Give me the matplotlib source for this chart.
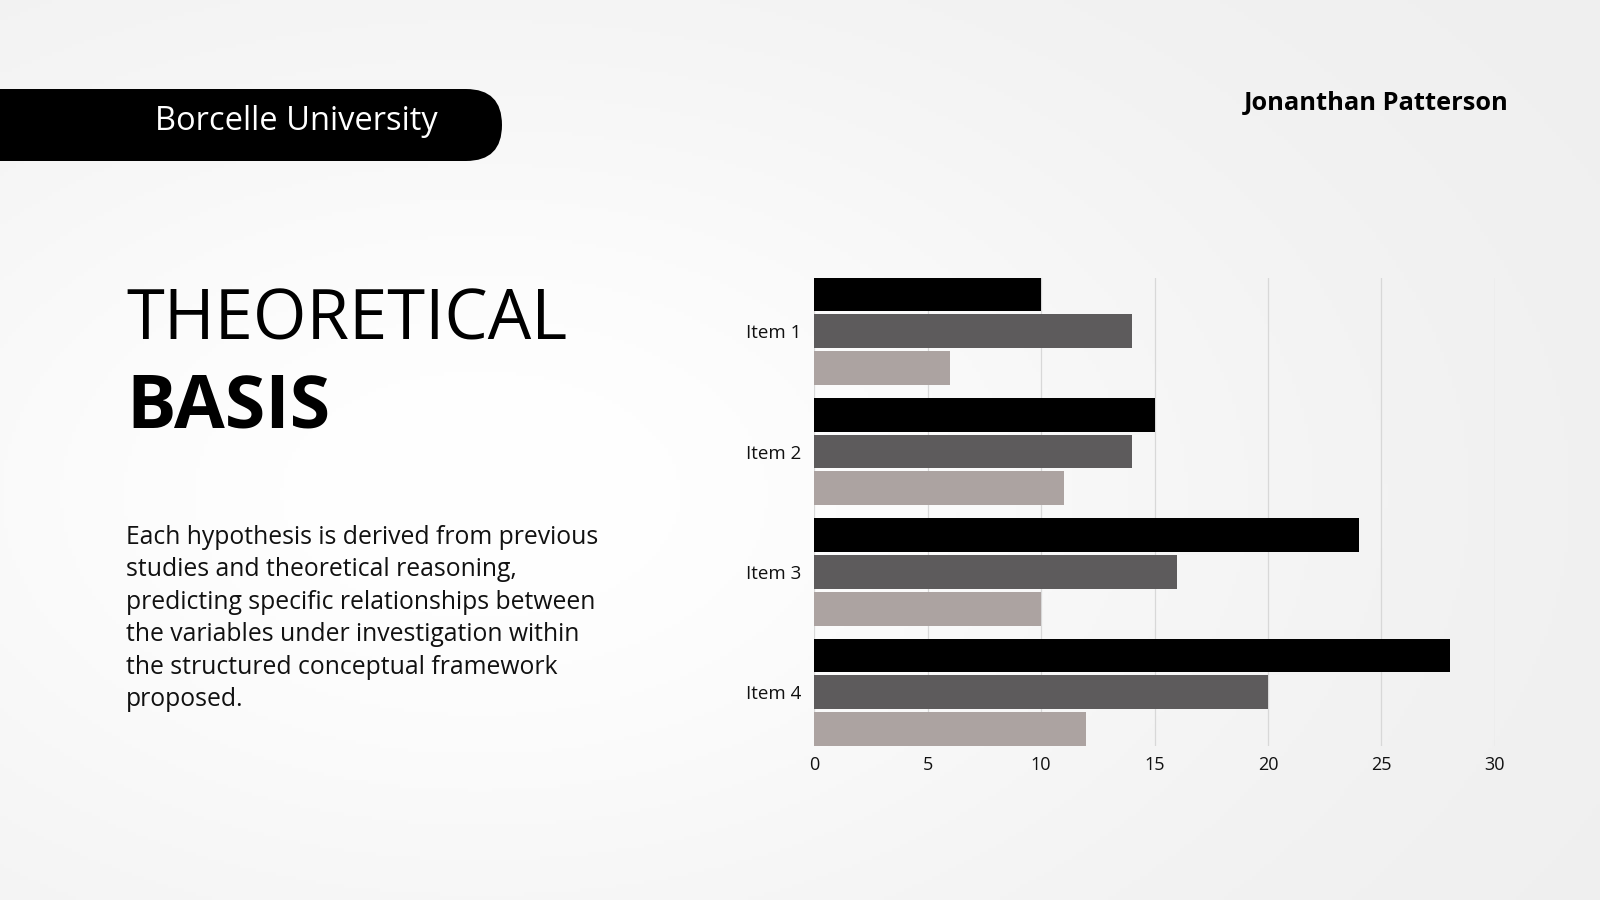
import numpy as np
import matplotlib
matplotlib.use("Agg")
import matplotlib.pyplot as plt
from matplotlib.patches import FancyBboxPatch

plt.rcParams['font.family'] = ['Open Sans', 'DejaVu Sans']

# data
items = ['Item 1', 'Item 2', 'Item 3', 'Item 4']
series_1 = [10, 15, 24, 28]
series_2 = [14, 14, 16, 20]
series_3 = [6, 11, 10, 12]
x_ticks = [0, 5, 10, 15, 20, 25, 30]

colors = ['#000000', '#5d5b5c', '#aca3a1']

paragraph = [
    "Each hypothesis is derived from previous",
    "studies and theoretical reasoning,",
    "predicting specific relationships between",
    "the variables under investigation within",
    "the structured conceptual framework",
    "proposed.",
]

W, H = 1600, 900
fig = plt.figure(figsize=(16, 9), dpi=100)

# background gradient
bg = fig.add_axes([0, 0, 1, 1], zorder=0)
gx, gy = np.meshgrid(np.linspace(0, 1, 400), np.linspace(0, 1, 225))
glow = np.exp(-(((gx - 0.3) / 0.5) ** 2 + ((gy - 0.55) / 0.55) ** 2))
shade = 0.935 + 0.065 * glow
bg.imshow(np.dstack([shade, shade, shade]), extent=[0, W, H, 0], aspect='auto')
bg.set_xlim(0, W)
bg.set_ylim(H, 0)
bg.axis('off')

# overlay in pixel coordinates
ov = fig.add_axes([0, 0, 1, 1], zorder=2)
ov.set_xlim(0, W)
ov.set_ylim(H, 0)
ov.axis('off')
ov.patch.set_alpha(0)

pill = FancyBboxPatch((-60, 89), 562, 72, boxstyle="round,pad=0,rounding_size=36",
                      fc='black', ec='none')
ov.add_patch(pill)
ov.text(296, 121, "Borcelle University", color='white', fontsize=23.5,
        ha='center', va='center')
ov.text(1509, 103, "Jonanthan Patterson", color='black', fontsize=18.3,
        fontweight='bold', ha='right', va='center')
ov.text(126, 340, "THEORETICAL", fontsize=49.5, ha='left', va='baseline')
ov.text(126, 427, "BASIS", fontsize=53, fontweight='bold', ha='left', va='baseline')
for i, line in enumerate(paragraph):
    ov.text(126, 537 + i * 32.6, line, fontsize=17.8, ha='left', va='center',
            color='#111111')

# chart
ax = fig.add_axes([0.5089, 0.1712, 0.4254, 0.5203], zorder=1)
ax.patch.set_alpha(0)
y = np.arange(len(items))
h = 0.28
step = 0.305
for k, vals in enumerate([series_1, series_2, series_3]):
    ax.barh(y + (k - 1) * step, vals, height=h, color=colors[k], zorder=3)

ax.set_ylim(3.445, -0.445)
ax.set_xlim(0, 30)
ax.set_xticks(x_ticks)
ax.set_yticks(y)
ax.set_yticklabels(items)
ax.grid(axis='x', color='#d8d8d8', linewidth=0.9, zorder=0)
for sp in ax.spines.values():
    sp.set_visible(False)
ax.tick_params(axis='both', length=0, labelsize=13, colors='#111111')
ax.tick_params(axis='y', labelsize=13.5, pad=9)
ax.tick_params(axis='x', pad=7)

fig.savefig('out.png', dpi=100)
